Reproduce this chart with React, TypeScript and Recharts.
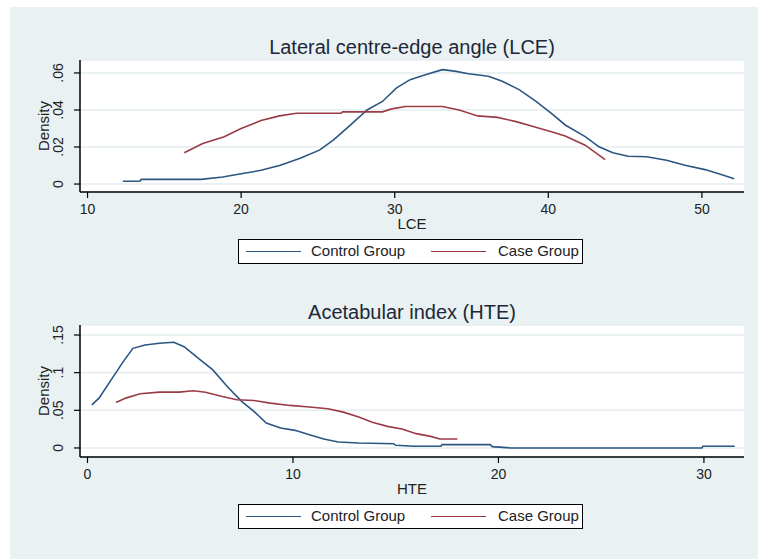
import { LineChart, Line, XAxis, YAxis, CartesianGrid, Label } from "recharts";

// kernel density estimates
const lceControl = [
  { x: 12.3, y: 0.0015 }, { x: 13.4, y: 0.0015 }, { x: 13.5, y: 0.0025 },
  { x: 17.4, y: 0.0025 }, { x: 18.8, y: 0.0038 }, { x: 20.0, y: 0.0056 },
  { x: 21.3, y: 0.0074 }, { x: 22.5, y: 0.010 }, { x: 23.8, y: 0.0138 },
  { x: 25.1, y: 0.0183 }, { x: 26.0, y: 0.0237 }, { x: 27.0, y: 0.031 },
  { x: 28.2, y: 0.040 }, { x: 29.2, y: 0.0446 }, { x: 30.1, y: 0.0518 },
  { x: 31.0, y: 0.0564 }, { x: 32.0, y: 0.059 }, { x: 33.1, y: 0.0618 },
  { x: 33.9, y: 0.061 }, { x: 34.8, y: 0.0596 }, { x: 36.1, y: 0.0582 },
  { x: 37.0, y: 0.0555 }, { x: 38.1, y: 0.051 }, { x: 39.2, y: 0.0446 },
  { x: 40.2, y: 0.0382 }, { x: 41.1, y: 0.0319 }, { x: 42.4, y: 0.0256 },
  { x: 43.3, y: 0.0201 }, { x: 44.2, y: 0.0169 }, { x: 45.2, y: 0.015 },
  { x: 46.4, y: 0.0147 }, { x: 47.7, y: 0.0129 }, { x: 48.9, y: 0.0101 },
  { x: 50.2, y: 0.0078 }, { x: 51.2, y: 0.0053 }, { x: 52.1, y: 0.0029 },
];

const lceCase = [
  { x: 16.3, y: 0.0169 }, { x: 17.5, y: 0.0219 }, { x: 18.9, y: 0.0256 },
  { x: 20.0, y: 0.030 }, { x: 21.3, y: 0.0343 }, { x: 22.5, y: 0.0368 },
  { x: 23.6, y: 0.0382 }, { x: 25.1, y: 0.0382 }, { x: 26.5, y: 0.0382 },
  { x: 26.6, y: 0.039 }, { x: 29.2, y: 0.039 }, { x: 29.8, y: 0.0406 },
  { x: 30.7, y: 0.0419 }, { x: 33.1, y: 0.0419 }, { x: 34.2, y: 0.040 },
  { x: 35.4, y: 0.0368 }, { x: 36.7, y: 0.036 }, { x: 37.9, y: 0.0337 },
  { x: 38.9, y: 0.0314 }, { x: 40.2, y: 0.0283 }, { x: 41.1, y: 0.0259 },
  { x: 42.4, y: 0.021 }, { x: 43.7, y: 0.0132 },
];

const hteControl = [
  { x: 0.21, y: 0.0573 }, { x: 0.56, y: 0.0662 }, { x: 1.15, y: 0.0904 },
  { x: 1.74, y: 0.1147 }, { x: 2.21, y: 0.1323 }, { x: 2.8, y: 0.1367 },
  { x: 3.5, y: 0.139 }, { x: 4.2, y: 0.1403 }, { x: 4.7, y: 0.1345 },
  { x: 5.4, y: 0.119 }, { x: 6.1, y: 0.1037 }, { x: 6.8, y: 0.0816 },
  { x: 7.5, y: 0.0618 }, { x: 8.1, y: 0.0485 }, { x: 8.7, y: 0.0331 },
  { x: 9.4, y: 0.0265 }, { x: 10.1, y: 0.0234 }, { x: 10.8, y: 0.0176 },
  { x: 11.5, y: 0.0119 }, { x: 12.2, y: 0.0079 }, { x: 13.2, y: 0.0066 },
  { x: 14.9, y: 0.0057 }, { x: 15.0, y: 0.0035 }, { x: 15.9, y: 0.0022 },
  { x: 17.2, y: 0.0022 }, { x: 17.25, y: 0.0044 }, { x: 19.6, y: 0.0044 },
  { x: 19.7, y: 0.0018 }, { x: 20.6, y: 0.0 }, { x: 29.9, y: 0.0 },
  { x: 29.95, y: 0.0022 }, { x: 31.5, y: 0.0022 },
];

const hteCase = [
  { x: 1.39, y: 0.0604 }, { x: 1.86, y: 0.0662 }, { x: 2.56, y: 0.0719 },
  { x: 3.5, y: 0.0741 }, { x: 4.45, y: 0.0741 }, { x: 5.15, y: 0.0759 },
  { x: 5.74, y: 0.0741 }, { x: 6.56, y: 0.0684 }, { x: 7.27, y: 0.064 },
  { x: 8.1, y: 0.063 }, { x: 8.9, y: 0.0596 }, { x: 9.86, y: 0.0565 },
  { x: 10.8, y: 0.0543 }, { x: 11.7, y: 0.052 }, { x: 12.45, y: 0.0476 },
  { x: 13.2, y: 0.041 }, { x: 13.86, y: 0.034 }, { x: 14.6, y: 0.0287 },
  { x: 15.3, y: 0.0251 }, { x: 16.0, y: 0.019 }, { x: 16.7, y: 0.0154 },
  { x: 17.15, y: 0.0119 }, { x: 18.0, y: 0.0119 },
];

const lceXTicks = [10, 20, 30, 40, 50];
const lceYTicks = [0, 0.02, 0.04, 0.06];
const hteXTicks = [0, 10, 20, 30];
const hteYTicks = [0, 0.05, 0.1, 0.15];

const seriesNames = ["Control Group", "Case Group"];

const BLUE = "#2a5682";
const RED = "#9a3c45";
const FONT = "'Liberation Sans', Arial, sans-serif";
const BG = "#e9f1f3";

const fmt = (v: number) => (v === 0 ? "0" : String(v).replace(/^0\./, "."));

const YTick = (props: any) => {
  const { x, y, payload } = props;
  return (
    <text
      x={x}
      y={y}
      transform={`rotate(-90, ${x}, ${y})`}
      textAnchor="middle"
      dominantBaseline="central"
      fontSize={14}
      fontFamily={FONT}
      fill="#222"
    >
      {fmt(payload.value)}
    </text>
  );
};

const XTick = (props: any) => {
  const { x, y, payload } = props;
  return (
    <text x={x} y={y} textAnchor="middle" dominantBaseline="central" fontSize={14} fontFamily={FONT} fill="#222">
      {payload.value}
    </text>
  );
};

const Panel = ({
  title,
  xLabel,
  control,
  cases,
  xDomain,
  yDomain,
  xTicks,
  yTicks,
}: {
  title: string;
  xLabel: string;
  control: { x: number; y: number }[];
  cases: { x: number; y: number }[];
  xDomain: [number, number];
  yDomain: [number, number];
  xTicks: number[];
  yTicks: number[];
}) => (
  <div style={{ position: "relative", width: 748, height: 265 }}>
    <div
      style={{
        position: "absolute",
        left: 0,
        width: 804,
        top: 28,
        textAlign: "center",
        fontFamily: FONT,
        fontSize: 20,
        color: "#1c2838",
        lineHeight: "24px",
      }}
    >
      {title}
    </div>
    <LineChart width={748} height={265} margin={{ top: 53, right: 14, bottom: 40, left: 0 }}>
      <CartesianGrid vertical={false} stroke="#e3ecef" strokeWidth={1.5} fill="#fff" />
      <XAxis
        type="number"
        dataKey="x"
        domain={xDomain}
        ticks={xTicks}
        allowDataOverflow
        height={40}
        tickSize={6}
        tickMargin={11}
        tick={<XTick />}
        axisLine={{ stroke: "#000", strokeWidth: 1.5 }}
        tickLine={{ stroke: "#000", strokeWidth: 1.2 }}
      >
        <Label
          content={({ viewBox }: any) => (
            <text
              x={viewBox.x + viewBox.width / 2}
              y={216}
              textAnchor="middle"
              dominantBaseline="central"
              fontSize={15}
              fontFamily={FONT}
              fill="#222"
            >
              {xLabel}
            </text>
          )}
        />
      </XAxis>
      <YAxis
        type="number"
        domain={yDomain}
        ticks={yTicks}
        allowDataOverflow
        width={70}
        tickSize={6}
        tickMargin={16}
        tick={<YTick />}
        axisLine={{ stroke: "#000", strokeWidth: 1.5 }}
        tickLine={{ stroke: "#000", strokeWidth: 1.2 }}
      >
        <Label
          content={({ viewBox }: any) => {
            const cx = 33;
            const cy = viewBox.y + viewBox.height / 2;
            return (
              <text
                x={cx}
                y={cy}
                transform={`rotate(-90, ${cx}, ${cy})`}
                textAnchor="middle"
                dominantBaseline="central"
                fontSize={15}
                fontFamily={FONT}
                fill="#222"
              >
                Density
              </text>
            );
          }}
        />
      </YAxis>
      <Line
        data={control}
        dataKey="y"
        name={seriesNames[0]}
        type="linear"
        stroke={BLUE}
        strokeWidth={1.6}
        dot={false}
        isAnimationActive={false}
      />
      <Line
        data={cases}
        dataKey="y"
        name={seriesNames[1]}
        type="linear"
        stroke={RED}
        strokeWidth={1.6}
        dot={false}
        isAnimationActive={false}
      />
    </LineChart>
    <div
      style={{
        position: "absolute",
        left: 228,
        top: 232,
        width: 343,
        height: 23,
        border: "1.5px solid #000",
        background: "#fff",
        fontFamily: FONT,
        fontSize: 15,
        color: "#222",
      }}
    >
      <div style={{ position: "absolute", left: 7, top: 11, width: 55, height: 0, borderTop: `1.6px solid ${BLUE}` }} />
      <div style={{ position: "absolute", left: 72, top: 2, lineHeight: "18px" }}>{seriesNames[0]}</div>
      <div style={{ position: "absolute", left: 192, top: 11, width: 55, height: 0, borderTop: `1.6px solid ${RED}` }} />
      <div style={{ position: "absolute", left: 259, top: 2, lineHeight: "18px" }}>{seriesNames[1]}</div>
    </div>
  </div>
);

export default function App() {
  return (
    <div
      style={{
        position: "absolute",
        left: 10,
        top: 7,
        width: 748,
        height: 552,
        background: BG,
      }}
    >
      <Panel
        title="Lateral centre-edge angle (LCE)"
        xLabel="LCE"
        control={lceControl}
        cases={lceCase}
        xDomain={[9.51, 52.74]}
        yDomain={[-0.0043, 0.067]}
        xTicks={lceXTicks}
        yTicks={lceYTicks}
      />
      <Panel
        title="Acetabular index (HTE)"
        xLabel="HTE"
        control={hteControl}
        cases={hteCase}
        xDomain={[-0.365, 31.95]}
        yDomain={[-0.012, 0.1633]}
        xTicks={hteXTicks}
        yTicks={hteYTicks}
      />
    </div>
  );
}
